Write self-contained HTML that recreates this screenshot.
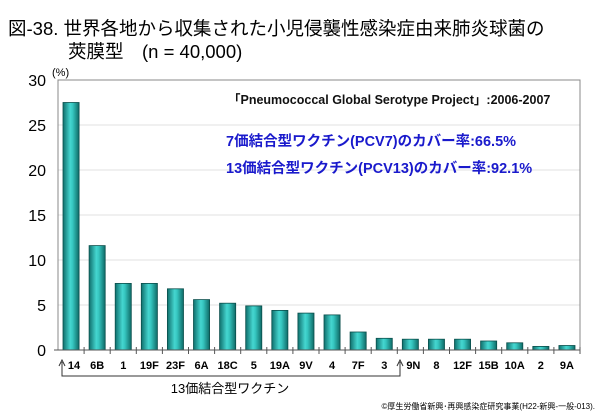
<!DOCTYPE html>
<html><head><meta charset="utf-8"><style>
body{margin:0;background:#fff;width:600px;height:415px;overflow:hidden;font-family:"Liberation Sans","Noto Sans CJK JP",sans-serif}
</style></head><body>
<svg width="600" height="415" xmlns="http://www.w3.org/2000/svg" font-family="Liberation Sans, Noto Sans CJK JP, sans-serif">
<defs><linearGradient id="g" x1="0" x2="1" y1="0" y2="0">
<stop offset="0" stop-color="#0f6f6c"/><stop offset="0.45" stop-color="#45d6d0"/><stop offset="0.6" stop-color="#36c6c0"/><stop offset="1" stop-color="#0e6a66"/></linearGradient></defs>
<text x="8" y="35" font-size="18.5" fill="#000">図-38. 世界各地から収集された小児侵襲性感染症由来肺炎球菌の</text>
<text x="68" y="58" font-size="18.5" fill="#000">莢膜型　(n = 40,000)</text>
<g id="plot"></g>
<text x="52" y="76" font-size="11">(%)</text>
<text x="228" y="104" font-size="12.5" font-weight="bold" fill="#111">「Pneumococcal Global Serotype Project」:2006-2007</text>
<text x="226" y="146" font-size="14.5" font-weight="bold" fill="#1a1acc">7価結合型ワクチン(PCV7)のカバー率:66.5%</text>
<text x="226" y="173" font-size="14.5" font-weight="bold" fill="#1a1acc">13価結合型ワクチン(PCV13)のカバー率:92.1%</text>
<path d="M62,362 V376 H400 V362 M59,366 L62,360 L65,366 M397,366 L400,360 L403,366" stroke="#333" fill="none" stroke-width="1"/>
<text x="230" y="393" font-size="13" text-anchor="middle">13価結合型ワクチン</text>
<text x="595" y="409" font-size="8" text-anchor="end">©厚生労働省新興･再興感染症研究事業(H22-新興-一般-013).</text>
</svg>
<script>
const categories=["14","6B","1","19F","23F","6A","18C","5","19A","9V","4","7F","3","9N","8","12F","15B","10A","2","9A"];
const values=[27.5,11.6,7.4,7.4,6.8,5.6,5.2,4.9,4.4,4.1,3.9,2.0,1.3,1.2,1.2,1.2,1.0,0.8,0.4,0.5];
const yTicks=[0,5,10,15,20,25,30];
const L=58,R=580,T=80,B=350,ymax=30;
const y=v=>B-(B-T)*v/ymax;
const bw=(R-L)/categories.length;
const x=i=>L+bw*i;
const ns="http://www.w3.org/2000/svg";
const g=document.getElementById('plot');
function mk(t,a){const e=document.createElementNS(ns,t);for(const k in a)e.setAttribute(k,a[k]);g.appendChild(e);return e;}
yTicks.forEach(t=>{
 if(t>0&&t<30){const l=mk('line',{x1:L,x2:R,y1:y(t),y2:y(t),stroke:'#e2e2e2','stroke-width':1});
 
 }
 const tx=mk('text',{x:L-12,y:y(t)+6,'font-size':16,'text-anchor':'end'});tx.textContent=t;
 
 
});
const fr=mk('rect',{x:L,y:T,width:R-L,height:B-T,fill:'none',stroke:'#888','stroke-width':1});


values.forEach((v,i)=>{
 const r=mk('rect',{x:x(i)+5,y:y(v),width:bw-10,height:B-y(v),fill:'url(#g)',stroke:'#0b4f4c','stroke-width':0.8});
 
 
 const tk=mk('line',{x1:x(i+1),x2:x(i+1),y1:B-3,y2:B+4,stroke:'#555'});
 
 
 const t=mk('text',{x:x(i)+bw/2+(i==0||i==13?3:0),y:B+19,'font-size':11,'font-weight':'bold','text-anchor':'middle'});t.textContent=categories[i];
 
 
});
const ax=mk('line',{x1:L-4,x2:R,y1:B,y2:B,stroke:'#555'});


</script>
</body></html>
